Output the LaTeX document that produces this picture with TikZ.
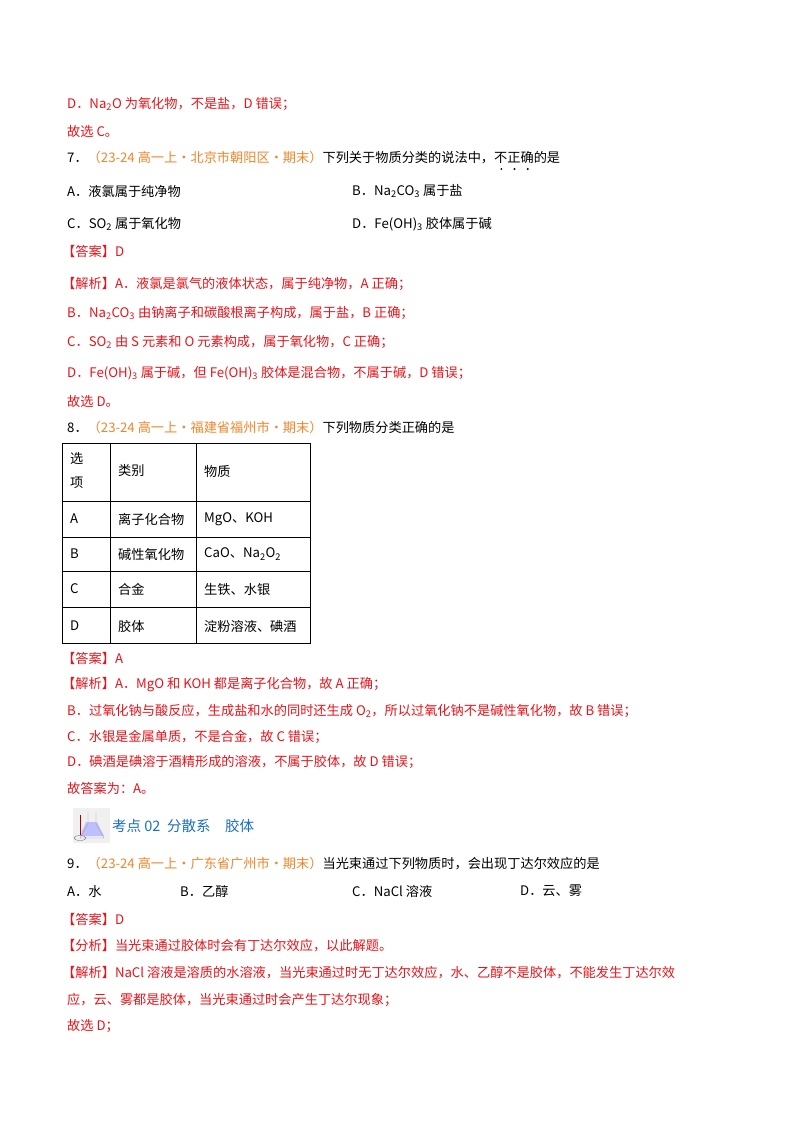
\documentclass[tikz,border=0pt]{standalone}
\usepackage{fontspec}
\setmainfont{Noto Sans CJK SC}
\usepackage{xcolor}
\definecolor{ansred}{HTML}{E8141B}
\definecolor{srcor}{HTML}{F0862A}
\definecolor{headblue}{HTML}{1C6FC4}
\newcommand{\sbs}[1]{\textsubscript{#1}}
\begin{document}
\begin{tikzpicture}[x=1pt,y=-1pt,
  txt/.style={anchor=west,inner sep=0pt,font=\fontsize{13.2}{15}\selectfont},
  red/.style={txt,text=ansred},
  cell/.style={anchor=west,inner sep=0pt,font=\fontsize{13.2}{15}\selectfont}]
\useasboundingbox[fill=white] (0,0) rectangle (800,1132);
\node[red] (l1) at (67,104) {D．Na\sbs{2}O 为氧化物，不是盐，D 错误；};
\node[red] (l2) at (67,131) {故选 C。};
\node[txt] (q7) at (67,158) {7．\textcolor{srcor}{（23-24 高一上·北京市朝阳区·期末）}下列关于物质分类的说法中，不正确的是};
\fill (q7.east) ++(-59,11) circle (1.1) ++(13.2,0) circle (1.1) ++(13.2,0) circle (1.1);
\node[txt] (a7) at (67,191) {A．液氯属于纯净物};
\node[txt] (b7) at (352,191) {B．Na\sbs{2}CO\sbs{3} 属于盐};
\node[txt] (c7) at (67,224) {C．SO\sbs{2} 属于氧化物};
\node[txt] (d7) at (352,224) {D．Fe(OH)\sbs{3} 胶体属于碱};
\node[red] (an7) at (62,251) {【答案】D};
\node[red] (j7) at (62,284) {【解析】A．液氯是氯气的液体状态，属于纯净物，A 正确；};
\node[red] (j7b) at (67,313) {B．Na\sbs{2}CO\sbs{3} 由钠离子和碳酸根离子构成，属于盐，B 正确；};
\node[red] (j7c) at (67,342) {C．SO\sbs{2} 由 S 元素和 O 元素构成，属于氧化物，C 正确；};
\node[red] (j7d) at (67,373) {D．Fe(OH)\sbs{3} 属于碱，但 Fe(OH)\sbs{3} 胶体是混合物，不属于碱，D 错误；};
\node[red] (j7e) at (67,401) {故选 D。};
\node[txt] (q8) at (67,427) {8．\textcolor{srcor}{（23-24 高一上·福建省福州市·期末）}下列物质分类正确的是};
% table
\draw[line width=0.8pt] (62,443) rectangle (310,643);
\foreach \yy in {501,537,571,607} \draw[line width=0.6pt] (62,\yy) -- (310,\yy);
\draw[line width=0.6pt] (110,443) -- (110,643) (196,443) -- (196,643);
\node[cell] (h1) at (70,459) {选};
\node[cell] (h1b) at (70,483) {项};
\node[cell] (h2) at (118,471) {类别};
\node[cell] (h3) at (204,471) {物质};
\node[cell] (ra) at (70,519) {A};
\node[cell] (ra2) at (118,519) {离子化合物};
\node[cell] (ra3) at (204,519) {MgO、KOH};
\node[cell] (rb) at (70,554) {B};
\node[cell] (rb2) at (118,554) {碱性氧化物};
\node[cell] (rb3) at (204,554) {CaO、Na\sbs{2}O\sbs{2}};
\node[cell] (rc) at (70,589) {C};
\node[cell] (rc2) at (118,589) {合金};
\node[cell] (rc3) at (204,589) {生铁、水银};
\node[cell] (rd) at (70,626) {D};
\node[cell] (rd2) at (118,626) {胶体};
\node[cell] (rd3) at (204,626) {淀粉溶液、碘酒};
\node[red] (an8) at (62,658) {【答案】A};
\node[red] (j8) at (62,685) {【解析】A．MgO 和 KOH 都是离子化合物，故 A 正确；};
\node[red] (j8b) at (67,711) {B．过氧化钠与酸反应，生成盐和水的同时还生成 O\sbs{2}，所以过氧化钠不是碱性氧化物，故 B 错误；};
\node[red] (j8c) at (67,737) {C．水银是金属单质，不是合金，故 C 错误；};
\node[red] (j8d) at (67,762) {D．碘酒是碘溶于酒精形成的溶液，不属于胶体，故 D 错误；};
\node[red] (j8e) at (67,788) {故答案为：A。};
% heading icon
\fill[gray!12] (73,808) rectangle (110,843);
\fill[blue!25] (86,822) -- (80,836) -- (104,836) -- (97,822) -- cycle;
\draw[gray!70] (88,812) -- (88,824) -- (80,838) -- (104,838) -- (96,824) -- (96,812);
\draw[red!70!black,line width=1pt] (80,815) -- (80,835);
\draw[gray] (80,838) ellipse (6 and 2.5);
\node[txt,text=headblue,font=\fontsize{14.5}{16}\selectfont] (hd) at (112,826) {考点 02\ \ 分散系\quad 胶体};
\node[txt] (q9) at (67,864) {9．\textcolor{srcor}{（23-24 高一上·广东省广州市·期末）}当光束通过下列物质时，会出现丁达尔效应的是};
\node[txt] (o9a) at (67,891) {A．水};
\node[txt] (o9b) at (180,891) {B．乙醇};
\node[txt] (o9c) at (352,891) {C．NaCl 溶液};
\node[txt] (o9d) at (520,891) {D．云、雾};
\node[red] (an9) at (62,919) {【答案】D};
\node[red] (f9) at (62,946) {【分析】当光束通过胶体时会有丁达尔效应，以此解题。};
\node[red] (j9) at (62,973) {【解析】NaCl 溶液是溶质的水溶液，当光束通过时无丁达尔效应，水、乙醇不是胶体，不能发生丁达尔效};
\node[red] (j9b) at (67,1000) {应，云、雾都是胶体，当光束通过时会产生丁达尔现象；};
\node[red] (j9c) at (67,1026) {故选 D；};
\end{tikzpicture}
\end{document}
